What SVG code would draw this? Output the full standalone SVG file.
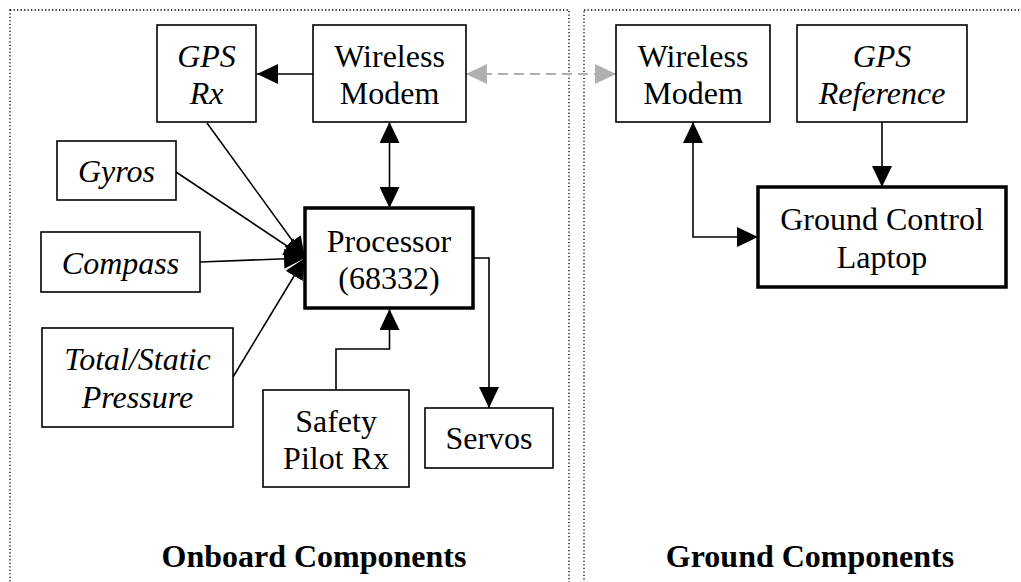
<svg xmlns="http://www.w3.org/2000/svg" width="1021" height="582" viewBox="0 0 1021 582">
<style>
.panel{fill:none;stroke:#000;stroke-width:1.3;stroke-dasharray:1.3 2.2}
.box{fill:#fff;stroke:#000;stroke-width:1.6}
.thick{fill:#fff;stroke:#000;stroke-width:3.5}
.t{font-family:"Liberation Serif","Times New Roman",serif;font-size:32px;fill:#000;text-anchor:middle}
.i{font-style:italic}
.b{font-weight:bold}
.c{fill:none;stroke:#000;stroke-width:1.6}
.g{fill:none;stroke:#b0b0b0;stroke-width:2;stroke-dasharray:10 6}
</style>
<defs>
<marker id="ah" markerUnits="userSpaceOnUse" markerWidth="21" markerHeight="20" refX="21" refY="10" orient="auto-start-reverse"><path d="M0,0 L21,10 L0,20 z" fill="#000"/></marker>
<marker id="ag" markerUnits="userSpaceOnUse" markerWidth="21" markerHeight="20" refX="21" refY="10" orient="auto-start-reverse"><path d="M0,0 L21,10 L0,20 z" fill="#b0b0b0"/></marker>
</defs>
<rect id="onboard-panel" class="panel" x="10" y="10" width="559" height="600"/>
<rect id="ground-panel" class="panel" x="584" y="10" width="460" height="600"/>
<text class="t b" x="314" y="567">Onboard Components</text>
<text class="t b" x="810" y="567">Ground Components</text>
<g id="connectors">
<line class="c" x1="313" y1="74" x2="257" y2="74" marker-end="url(#ah)"/>
<line class="g" x1="466" y1="74" x2="616" y2="74" marker-start="url(#ag)" marker-end="url(#ag)"/>
<line class="c" x1="389.5" y1="122" x2="389.5" y2="208" marker-start="url(#ah)" marker-end="url(#ah)"/>
<line class="c" x1="207" y1="123" x2="305" y2="258" marker-end="url(#ah)"/>
<line class="c" x1="176" y1="172" x2="305" y2="258" marker-end="url(#ah)"/>
<line class="c" x1="200" y1="262" x2="305" y2="258" marker-end="url(#ah)"/>
<line class="c" x1="233" y1="377" x2="305" y2="258" marker-end="url(#ah)"/>
<path class="c" d="M336,390 V349 H389.5 V309" marker-end="url(#ah)"/>
<path class="c" d="M473,258 H489 V408" marker-end="url(#ah)"/>
<path class="c" d="M693,122 V237 H758" marker-start="url(#ah)" marker-end="url(#ah)"/>
<line class="c" x1="882" y1="122" x2="882" y2="187" marker-end="url(#ah)"/>
</g>
<g id="gps-rx"><rect class="box" x="157" y="25" width="99" height="97"/><text class="t i" x="206.5" y="67">GPS</text><text class="t i" x="206.5" y="104">Rx</text></g>
<g id="modem-onboard"><rect class="box" x="313" y="25" width="153" height="97"/><text class="t" x="389.5" y="67">Wireless</text><text class="t" x="389.5" y="104">Modem</text></g>
<g id="gyros"><rect class="box" x="57" y="141" width="119" height="59"/><text class="t i" x="116.5" y="182">Gyros</text></g>
<g id="compass"><rect class="box" x="41" y="232" width="159" height="60"/><text class="t i" x="120.5" y="274">Compass</text></g>
<g id="pressure"><rect class="box" x="42" y="328" width="191" height="99"/><text class="t i" x="137.5" y="370">Total/Static</text><text class="t i" x="137.5" y="408">Pressure</text></g>
<g id="processor"><rect class="thick" x="305" y="208" width="168" height="100"/><text class="t" x="389" y="252">Processor</text><text class="t" x="389" y="289">(68332)</text></g>
<g id="safety"><rect class="box" x="263" y="390" width="146" height="97"/><text class="t" x="336" y="432">Safety</text><text class="t" x="336" y="469">Pilot Rx</text></g>
<g id="servos"><rect class="box" x="425" y="408" width="128" height="60"/><text class="t" x="489" y="449">Servos</text></g>
<g id="modem-ground"><rect class="box" x="616" y="25" width="154" height="97"/><text class="t" x="693" y="67">Wireless</text><text class="t" x="693" y="104">Modem</text></g>
<g id="gps-ref"><rect class="box" x="797" y="25" width="170" height="97"/><text class="t i" x="882" y="67">GPS</text><text class="t i" x="882" y="104">Reference</text></g>
<g id="laptop"><rect class="thick" x="758" y="187" width="248" height="100"/><text class="t" x="882" y="230">Ground Control</text><text class="t" x="882" y="268">Laptop</text></g>
</svg>
